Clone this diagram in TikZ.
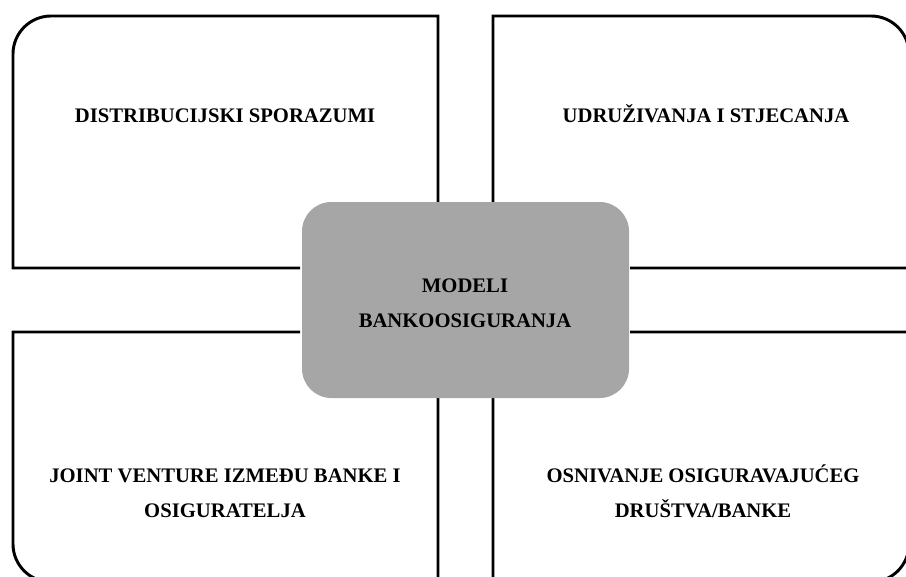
\documentclass[tikz,border=0pt]{standalone}
\usepackage{fontspec}
\setmainfont{Liberation Serif}
\usepackage{tikz}
\usetikzlibrary{positioning}

\begin{document}
\begin{tikzpicture}
  [ x=0.75pt, y=-0.75pt,
    frame/.style={draw=black, line width=2.2pt},
    core/.style={fill=black!35, rounded corners=22pt},
    caption/.style={align=center, anchor=base, font=\fontsize{15.5}{26.25}\selectfont\bfseries}
  ]
  \useasboundingbox (0,0) rectangle (906,576);

  % four quarters, each with one rounded outer corner (radius 38)
  \draw [frame] (438,268) -- (438,16) -- (51,16) arc[start angle=-90, end angle=-180, radius=38] -- (13,268) -- (300,268);
  \draw [frame] (493,268) -- (493,16) -- (871,16) arc[start angle=-90, end angle=0, radius=38] -- (909,268) -- (630,268);
  \draw [frame] (438,332) -- (438,582) -- (51,582) arc[start angle=90, end angle=180, radius=38] -- (13,332) -- (300,332);
  \draw [frame] (493,332) -- (493,582) -- (871,582) arc[start angle=90, end angle=0, radius=38] -- (909,332) -- (630,332);

  % centre
  \path [core] (302,202) rectangle (629,398);

  % base of a two-line caption is its last line
  \node (dist)  at (225,122) [caption] {DISTRIBUCIJSKI SPORAZUMI};
  \node (udruz) at (706,122) [caption] {UDRUŽIVANJA I STJECANJA};
  \node (model) at (465,327) [caption] {MODELI\\BANKOOSIGURANJA};
  \node (joint) at (225,517) [caption] {JOINT VENTURE IZMEĐU BANKE I\\OSIGURATELJA};
  \node (osniv) at (703,517) [caption] {OSNIVANJE OSIGURAVAJUĆEG\\DRUŠTVA/BANKE};
\end{tikzpicture}
\end{document}
